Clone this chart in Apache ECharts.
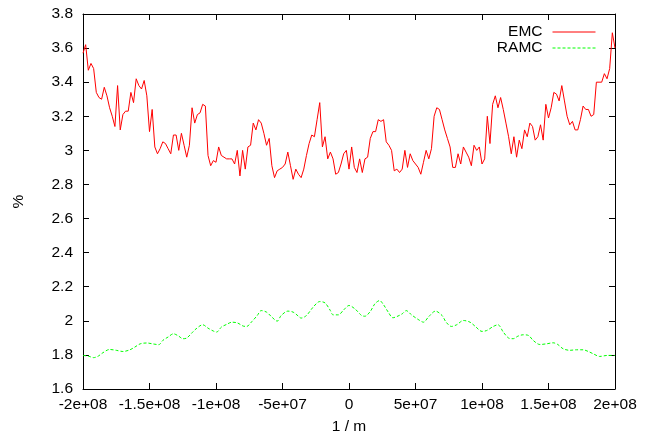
<!DOCTYPE html>
<html lang="en">

<head>
    <meta charset="UTF-8">
    <title>EMC / RAMC</title>
    <script src="https://cdn.jsdelivr.net/npm/echarts@6/dist/echarts.min.js"></script>
    <style>
        html,
        body,
        #main {
            padding: 0px;
            margin: 0px;
            width: 651px;
            height: 439px;
            background: #fff;
        }
    </style>
</head>

<body>
    <div id="main"></div>
    <script type="text/javascript">
        // x positions in units of 1e6 (1/m)
        const emcX = [
            -200, -198, -196, -194, -192, -190, -188, -186, -184, -182,
            -180, -178, -176, -174, -172, -170, -168, -166, -164, -162,
            -160, -158, -156, -154, -152, -150, -148, -146, -144, -142,
            -140, -138, -136, -134, -132, -130, -128, -126, -124, -122,
            -120, -118, -116, -114, -112, -110, -108, -106, -104, -102,
            -100, -98, -96, -94, -92, -90, -88, -86, -84, -82,
            -80, -78, -76, -74, -72, -70, -68, -66, -64, -62,
            -60, -58, -56, -54, -52, -50, -48, -46, -44, -42,
            -40, -38, -36, -34, -32, -30, -28, -26, -24, -22,
            -20, -18, -16, -14, -12, -10, -8, -6, -4, -2,
            0, 2, 4, 6, 8, 10, 12, 14, 16, 18,
            20, 22, 24, 26, 28, 30, 32, 34, 36, 38,
            40, 42, 44, 46, 48, 50, 52, 54, 56, 58,
            60, 62, 64, 66, 68, 70, 72, 74, 76, 78,
            80, 82, 84, 86, 88, 90, 92, 94, 96, 98,
            100, 102, 104, 106, 108, 110, 112, 114, 116, 118,
            120, 122, 124, 126, 128, 130, 132, 134, 136, 138,
            140, 142, 144, 146, 148, 150, 152, 154, 156, 158,
            160, 162, 164, 166, 168, 170, 172, 174, 176, 178,
            180, 182, 184, 186, 188, 190, 192, 194, 196, 198,
            200
        ];
        const emcY = [
            3.57, 3.62, 3.47, 3.51, 3.48, 3.34, 3.31, 3.30, 3.37, 3.32,
            3.25, 3.20, 3.14, 3.38, 3.12, 3.21, 3.23, 3.23, 3.34, 3.28,
            3.42, 3.38, 3.36, 3.41, 3.32, 3.11, 3.24, 3.02, 2.98, 3.01,
            3.05, 3.04, 3.01, 2.98, 3.09, 3.09, 3.00, 3.10, 3.03, 2.96,
            3.03, 3.25, 3.16, 3.21, 3.22, 3.27, 3.26, 2.97, 2.91, 2.94,
            2.93, 3.02, 2.97, 2.96, 2.95, 2.95, 2.95, 2.92, 3.00, 2.85,
            3.00, 2.89, 3.02, 3.03, 3.16, 3.12, 3.18, 3.16, 3.10, 3.03,
            3.07, 2.91, 2.84, 2.88, 2.89, 2.90, 2.92, 2.99, 2.91, 2.83,
            2.89, 2.86, 2.84, 2.89, 2.97, 3.04, 3.09, 3.08, 3.18, 3.28,
            3.02, 3.08, 2.95, 2.99, 2.95, 2.86, 2.87, 2.92, 2.98, 3.00,
            2.89, 3.02, 2.90, 2.87, 2.95, 2.87, 2.95, 2.96, 3.07, 3.11,
            3.11, 3.18, 3.17, 3.18, 3.05, 3.03, 3.00, 2.88, 2.89, 2.87,
            2.89, 3.00, 2.90, 2.98, 2.94, 2.92, 2.90, 2.86, 2.93, 3.00,
            2.95, 3.01, 3.20, 3.25, 3.24, 3.18, 3.12, 3.07, 3.02, 2.90,
            2.90, 2.98, 2.92, 3.02, 2.99, 2.96, 2.91, 3.03, 3.00, 3.02,
            2.92, 2.95, 3.20, 3.04, 3.27, 3.32, 3.25, 3.31, 3.24, 3.16,
            3.08, 2.98, 3.08, 2.96, 3.06, 3.01, 3.12, 3.08, 3.16, 3.14,
            3.06, 3.08, 3.15, 3.06, 3.27, 3.19, 3.25, 3.34, 3.33, 3.29,
            3.38, 3.29, 3.20, 3.15, 3.17, 3.12, 3.12, 3.18, 3.26, 3.24,
            3.24, 3.20, 3.21, 3.40, 3.40, 3.40, 3.45, 3.42, 3.48, 3.69,
            3.60
        ];
        const ramcX = [
            -200, -196, -192, -188.5, -185, -180, -175, -170, -165, -161,
            -157, -152, -147, -143, -140, -136, -132, -128, -125, -122,
            -118, -115, -110, -106, -102, -99.5, -96, -92, -88, -84,
            -79.5, -77, -73, -69, -66, -62, -58, -54, -51, -46,
            -42, -38, -36, -32, -27, -22, -18, -14, -12, -8,
            -4, 0, 4.5, 9.5, 12, 16, 19.5, 23, 26, 29.5,
            33, 36, 40, 43, 47, 52, 56, 60, 65, 70,
            73, 77, 81, 86, 91, 95, 100, 103.5, 108.5, 112,
            116, 120, 123.5, 127, 131, 135, 138.5, 143.5, 148.5, 153.5,
            157, 161, 166, 171, 176, 180, 183.5, 188.5, 194, 200
        ];
        const ramcY = [
            1.797, 1.793, 1.784, 1.793, 1.813, 1.832, 1.827, 1.820, 1.829, 1.846,
            1.865, 1.870, 1.864, 1.860, 1.885, 1.905, 1.924, 1.910, 1.895, 1.899,
            1.930, 1.953, 1.977, 1.957, 1.940, 1.934, 1.963, 1.979, 1.992, 1.988,
            1.969, 1.967, 1.996, 2.031, 2.060, 2.051, 2.022, 1.998, 2.031, 2.057,
            2.051, 2.027, 2.016, 2.031, 2.080, 2.113, 2.105, 2.060, 2.035, 2.035,
            2.064, 2.090, 2.070, 2.031, 2.027, 2.055, 2.100, 2.119, 2.094, 2.051,
            2.018, 2.025, 2.041, 2.060, 2.035, 2.008, 1.992, 2.025, 2.057, 2.031,
            1.992, 1.967, 1.977, 2.002, 1.992, 1.967, 1.938, 1.943, 1.967, 1.977,
            1.934, 1.899, 1.895, 1.910, 1.918, 1.914, 1.885, 1.861, 1.865, 1.871,
            1.861, 1.836, 1.827, 1.830, 1.830, 1.820, 1.807, 1.791, 1.797, 1.797
        ];
        const xMin = -2e8, xMax = 2e8, xStep = 5e7;
        const yMin = 1.6, yMax = 3.8, yStep = 0.2;

        const font = 'Liberation Sans, Arial, sans-serif';
        const fontSize = 15.5;

        // gnuplot style tick text: 5e+07, -1.5e+08, 0
        function expLabel(v) {
            if (v === 0) return '0';
            return v.toExponential().replace(/e([+-])(\d)$/, 'e$10$2');
        }
        function yLabel(v) {
            return String(+v.toFixed(1));
        }

        function pairs(xs, ys) {
            return xs.map((x, i) => [x * 1e6, ys[i]]);
        }

        const chart = echarts.init(document.getElementById('main'));

        // frame: all four sides drawn, ticks pointing inwards
        const axisLine = { show: true, onZero: false, lineStyle: { color: '#000', width: 1 } };
        const axisTick = { show: true, inside: true, length: 6, lineStyle: { color: '#000', width: 1 } };

        const option = {
            animation: false,
            backgroundColor: '#fff',
            grid: {
                left: 83,
                right: 36,
                top: 14,
                bottom: 50,
                containLabel: false,
                outerBoundsMode: 'none'
            },
            legend: {
                orient: 'vertical',
                align: 'right',
                right: 50,
                top: 19,
                itemWidth: 43,
                itemHeight: 16,
                itemGap: 0,
                itemStyle: { opacity: 0 },
                lineStyle: { width: 1 },
                textStyle: {
                    fontFamily: font,
                    fontSize: fontSize,
                    color: '#000',
                    padding: [0, 5, 0, 0]
                },
                data: ['EMC', 'RAMC']
            },
            xAxis: [{
                type: 'value',
                position: 'bottom',
                min: xMin,
                max: xMax,
                interval: xStep,
                name: '1 / m',
                nameLocation: 'middle',
                nameGap: 30,
                nameTextStyle: { fontFamily: font, fontSize: fontSize, color: '#000' },
                axisLine: axisLine,
                axisTick: axisTick,
                splitLine: { show: false },
                axisLabel: {
                    margin: 8,
                    fontFamily: font,
                    fontSize: fontSize,
                    color: '#000',
                    formatter: expLabel,
                    showMinLabel: true,
                    showMaxLabel: true
                }
            }, {
                type: 'value',
                position: 'top',
                min: xMin,
                max: xMax,
                interval: xStep,
                axisLine: axisLine,
                axisTick: axisTick,
                splitLine: { show: false },
                axisLabel: { show: false }
            }],
            yAxis: [{
                type: 'value',
                position: 'left',
                min: yMin,
                max: yMax,
                interval: yStep,
                name: '%',
                nameLocation: 'middle',
                nameGap: 56,
                nameTextStyle: { fontFamily: font, fontSize: fontSize, color: '#000' },
                axisLine: axisLine,
                axisTick: axisTick,
                splitLine: { show: false },
                axisLabel: {
                    margin: 10,
                    fontFamily: font,
                    fontSize: fontSize,
                    color: '#000',
                    formatter: yLabel,
                    showMinLabel: true,
                    showMaxLabel: true
                }
            }, {
                type: 'value',
                position: 'right',
                min: yMin,
                max: yMax,
                interval: yStep,
                axisLine: axisLine,
                axisTick: axisTick,
                splitLine: { show: false },
                axisLabel: { show: false }
            }],
            series: [{
                name: 'EMC',
                type: 'line',
                symbol: 'none',
                xAxisIndex: 0,
                yAxisIndex: 0,
                itemStyle: { color: '#ff0000' },
                lineStyle: { color: '#ff0000', width: 1 },
                data: pairs(emcX, emcY)
            }, {
                name: 'RAMC',
                type: 'line',
                symbol: 'none',
                smooth: 0.3,
                xAxisIndex: 0,
                yAxisIndex: 0,
                itemStyle: { color: '#00ff00' },
                lineStyle: { color: '#00ff00', width: 1, type: [3, 2] },
                data: pairs(ramcX, ramcY)
            }]
        };

        chart.setOption(option);
    </script>
</body>

</html>
